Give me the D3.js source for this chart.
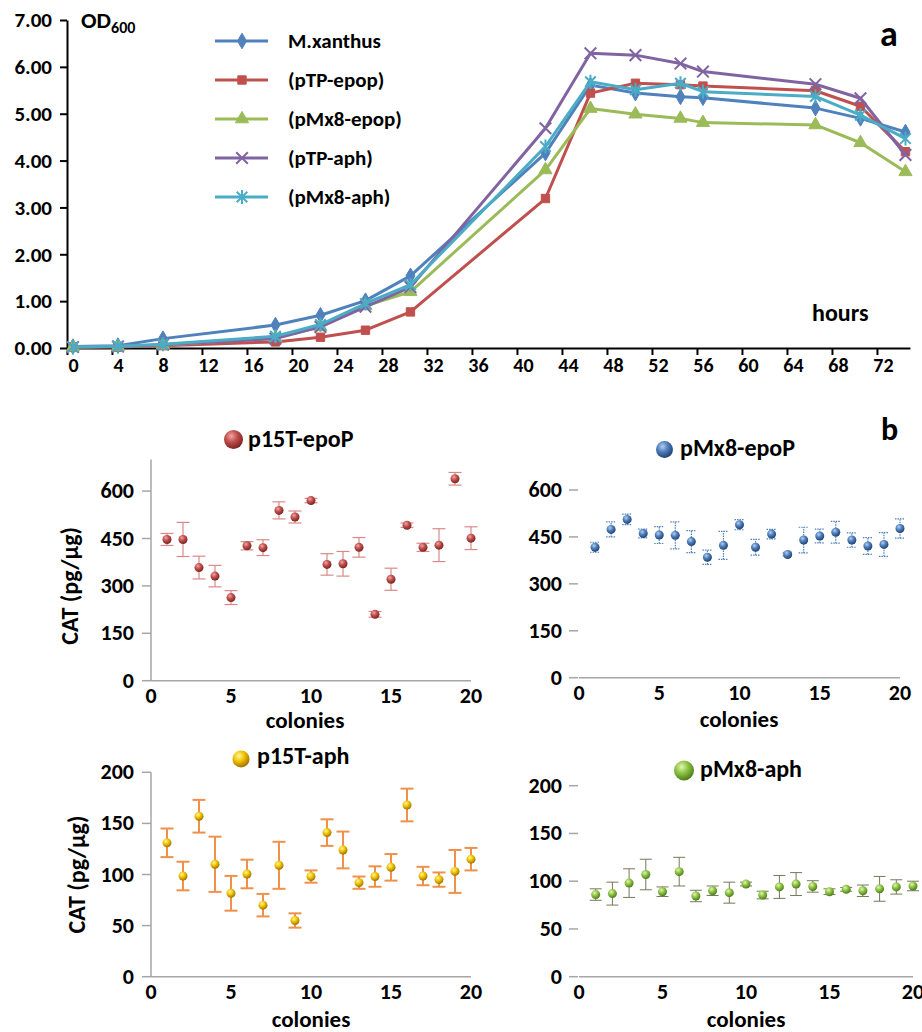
<!DOCTYPE html>
<meta charset="utf-8">
<style>
  body { margin: 0; background: #fff; }
  svg text { font-family: Carlito, "Open Sans", sans-serif; font-weight: 700; }
</style>
<script src="https://d3js.org/d3.v7.min.js"></script>
<div id="chart"></div>
<script>
// ---- panel a: growth curves ----
var hours = [0, 4, 8, 18, 22, 26, 30, 42, 46, 50, 54, 56, 66, 70, 74];
var xanthus = [0.03, 0.05, 0.20, 0.49, 0.70, 1.01, 1.54, 4.16, 5.61, 5.44, 5.36, 5.34, 5.12, 4.90, 4.61];
var tpEpop  = [0.02, 0.02, 0.05, 0.13, 0.23, 0.38, 0.77, 3.19, 5.44, 5.65, 5.62, 5.59, 5.49, 5.16, 4.19];
var mxEpop  = [0.02, 0.03, 0.06, 0.22, 0.45, 0.90, 1.20, 3.80, 5.11, 4.99, 4.90, 4.81, 4.76, 4.38, 3.76];
var tpAph   = [0.02, 0.03, 0.07, 0.20, 0.45, 0.88, 1.30, 4.69, 6.29, 6.25, 6.07, 5.90, 5.63, 5.33, 4.12];
var mxAph   = [0.02, 0.04, 0.08, 0.25, 0.50, 0.95, 1.35, 4.30, 5.68, 5.51, 5.65, 5.47, 5.37, 4.97, 4.47];
var seriesNames = ["M.xanthus", "(pTP-epop)", "(pMx8-epop)", "(pTP-aph)", "(pMx8-aph)"];
var hourTicks = [0, 4, 8, 12, 16, 20, 24, 28, 32, 36, 40, 44, 48, 52, 56, 60, 64, 68, 72];
var odTicks = [0, 1, 2, 3, 4, 5, 6, 7];

// ---- panel b: CAT per colony ----
var colonies = [1, 2, 3, 4, 5, 6, 7, 8, 9, 10, 11, 12, 13, 14, 15, 16, 17, 18, 19, 20];
var p15tEpo    = [447, 447, 358, 331, 263, 427, 421, 539, 518, 570, 368, 370, 422, 210, 321, 492, 422, 429, 639, 451];
var p15tEpoErr = [19, 54, 36, 34, 22, 13, 25, 27, 19, 7, 34, 39, 31, 9, 35, 7, 13, 52, 20, 36];
var mx8Epo     = [417, 474, 506, 461, 456, 455, 435, 385, 423, 489, 417, 459, 394, 440, 453, 465, 440, 421, 426, 477];
var mx8EpoErr  = [16, 24, 17, 14, 27, 43, 35, 23, 45, 16, 25, 15, 5, 41, 22, 35, 23, 27, 38, 31];
var p15tAph    = [131, 98.5, 157, 110, 81.6, 100.5, 70, 109, 55, 98, 141, 124, 92, 98, 107, 168, 98.5, 95, 103, 115];
var p15tAphErr = [14, 14, 16, 27, 17, 14, 11, 23, 7, 6, 13, 18, 6, 10, 13, 16, 9, 7, 21, 11];
var mx8Aph     = [86, 87, 98, 107, 89, 110, 84.5, 90, 88, 97, 85.5, 94, 97, 94.5, 89, 91.5, 90, 92, 94, 95];
var mx8AphErr  = [6, 12, 15, 16, 5, 15, 6, 5, 11, 2, 4, 12, 12, 6, 3, 2, 6, 13, 7.5, 5];
var colonyTicks = [0, 5, 10, 15, 20];
var epoTicks = [0, 150, 300, 450, 600];
var aphTicks = [0, 50, 100, 150, 200];

var svg = d3.select("#chart").append("svg")
  .attr("width", 922).attr("height", 1032);

// Excel-like palette
var colors = ["#4F81BD", "#C0504D", "#9BBB59", "#8064A2", "#4BACC6"];

// custom asterisk marker (x with a vertical bar)
var star = {
  draw: function(ctx, size) {
    var r = Math.sqrt(size) / 2;
    var d = r * 0.75;
    ctx.moveTo(-d, -d); ctx.lineTo(d, d);
    ctx.moveTo(-d, d); ctx.lineTo(d, -d);
    ctx.moveTo(0, -r); ctx.lineTo(0, r);
  }
};
var markers = [
  { type: d3.symbolDiamond, size: 70, fill: true },
  { type: d3.symbolSquare, size: 70, fill: true },
  { type: d3.symbolTriangle, size: 75, fill: true },
  { type: d3.symbolX, size: 90, fill: false },
  { type: star, size: 200, fill: false }
];

var x = d3.scaleLinear().domain([-0.53, 74.4]).range([67, 67 + 74.93 * 11.25]);
var y = d3.scaleLinear().domain([0, 7]).range([348, 20]);

var gx = svg.append("g")
  .attr("transform", "translate(0," + y(0) + ")")
  .call(d3.axisBottom(x).tickValues(hourTicks).tickSize(7).tickPadding(3).tickSizeOuter(0));
gx.selectAll(".tick line").attr("transform", "translate(-6,0)");

var gy = svg.append("g")
  .attr("transform", "translate(" + x(-0.53) + ",0)")
  .call(d3.axisLeft(y).tickValues(odTicks).tickFormat(d3.format(".2f")).tickSize(7).tickPadding(8).tickSizeOuter(0));

[gx, gy].forEach(function(g) {
  g.select(".domain").attr("stroke", "#000").attr("stroke-width", 2);
  g.selectAll(".tick line").attr("stroke", "#000").attr("stroke-width", 2);
  g.selectAll(".tick text").attr("fill", "#000");
});
gx.selectAll(".tick text").style("font-size", "20px");
gy.selectAll(".tick text").style("font-size", "21px");

var allSeries = [xanthus, tpEpop, mxEpop, tpAph, mxAph];
var line = d3.line()
  .x(function(d, i) { return x(hours[i]); })
  .y(function(d) { return y(d); });

allSeries.forEach(function(vals, k) {
  svg.append("path")
    .datum(vals)
    .attr("fill", "none")
    .attr("stroke", colors[k])
    .attr("stroke-width", 3)
    .attr("stroke-linejoin", "round")
    .attr("d", line);
  var m = markers[k];
  svg.append("g").selectAll("path")
    .data(vals)
    .enter().append("path")
    .attr("transform", function(d, i) { return "translate(" + x(hours[i]) + "," + y(d) + ")"; })
    .attr("d", d3.symbol().type(m.type).size(m.size))
    .attr("fill", m.fill ? colors[k] : "none")
    .attr("stroke", colors[k])
    .attr("stroke-width", m.fill ? 1 : 2);
});

// legend
var legend = svg.append("g").attr("transform", "translate(215,41)");
seriesNames.forEach(function(name, k) {
  var row = legend.append("g").attr("transform", "translate(0," + k * 39 + ")");
  row.append("line").attr("x1", 0).attr("x2", 53)
    .attr("stroke", colors[k]).attr("stroke-width", 3);
  var m = markers[k];
  row.append("path")
    .attr("transform", "translate(27,0)")
    .attr("d", d3.symbol().type(m.type).size(m.size))
    .attr("fill", m.fill ? colors[k] : "none")
    .attr("stroke", colors[k])
    .attr("stroke-width", m.fill ? 1 : 2);
  row.append("text").attr("x", 73).attr("y", 7)
    .style("font-size", "21px").text(name);
});

var od = svg.append("text").attr("x", 81).attr("y", 28).style("font-size", "23px");
od.append("tspan").text("OD");
od.append("tspan").attr("dy", 5).style("font-size", "16px").text("600");
svg.append("text").attr("x", 880).attr("y", 45.5).style("font-size", "36px").text("a");
svg.append("text").attr("x", 812).attr("y", 321).style("font-size", "24px").text("hours");

// ---- panel b ----
svg.append("text").attr("x", 881).attr("y", 440).style("font-size", "32px").text("b");

var defs = svg.append("defs");
function sphereGrad(id, light, mid, dark) {
  var g = defs.append("radialGradient").attr("id", id)
    .attr("cx", "38%").attr("cy", "32%").attr("r", "70%");
  g.append("stop").attr("offset", "0%").attr("stop-color", light);
  g.append("stop").attr("offset", "45%").attr("stop-color", mid);
  g.append("stop").attr("offset", "100%").attr("stop-color", dark);
}
sphereGrad("gRed", "#f0a8a6", "#c0504d", "#7a2220");
sphereGrad("gBlue", "#b8cdf0", "#4f81bd", "#1f3f6e");
sphereGrad("gGold", "#fff6a0", "#f2c500", "#a07000");
sphereGrad("gGreen", "#e2f5b8", "#8fc544", "#4c7a18");

var panels = [
  { title: "p15T-epoP", grad: "gRed", vals: p15tEpo, err: p15tEpoErr, ticks: epoTicks,
    xr: [151, 471], ymax: 700, yr: [680.7, 459.5], yLine: true, ylabX: 78,
    errColor: "#d98a88", errWidth: 1.2, dash: null, cap: 13,
    titleX: 248, titleY: 447, sx: 233.5, sy: 439.5, sr: 9.5, colX: 305, colY: 728 },
  { title: "pMx8-epoP", grad: "gBlue", vals: mx8Epo, err: mx8EpoErr, ticks: epoTicks,
    xr: [579, 900], ymax: 600, yr: [677.7, 490], yLine: false, ylabX: null,
    errColor: "#4f81bd", errWidth: 1.2, dash: "1.5,1", cap: 10,
    titleX: 680, titleY: 456, sx: 664.5, sy: 449.5, sr: 8.5, colX: 739, colY: 727 },
  { title: "p15T-aph", grad: "gGold", vals: p15tAph, err: p15tAphErr, ticks: aphTicks,
    xr: [151, 471], ymax: 200, yr: [976.7, 772.3], yLine: true, ylabX: 85,
    errColor: "#f0904a", errWidth: 2, dash: null, cap: 13,
    titleX: 257, titleY: 764, sx: 241, sy: 759, sr: 8.5, colX: 311, colY: 1027 },
  { title: "pMx8-aph", grad: "gGreen", vals: mx8Aph, err: mx8AphErr, ticks: aphTicks,
    xr: [579, 913], ymax: 200, yr: [976.7, 785.7], yLine: false, ylabX: null,
    errColor: "#77775a", errWidth: 1, dash: null, cap: 12,
    titleX: 700, titleY: 777, sx: 684, sy: 770.5, sr: 10, colX: 746, colY: 1027 }
];

panels.forEach(function(p) {
  var px = d3.scaleLinear().domain([0, 20]).range(p.xr);
  var py = d3.scaleLinear().domain([0, p.ymax]).range(p.yr);
  var g = svg.append("g");

  // x axis line + labels
  g.append("line")
    .attr("x1", px(0)).attr("x2", px(20)).attr("y1", py(0)).attr("y2", py(0))
    .attr("stroke", "#a6a6a6").attr("stroke-width", 1.5);
  g.selectAll(".xl").data(colonyTicks).enter().append("text")
    .attr("x", function(d) { return px(d); })
    .attr("y", py(0) + 22)
    .attr("text-anchor", "middle")
    .style("font-size", "22px")
    .text(function(d) { return d; });

  // y axis
  if (p.yLine) {
    g.append("line")
      .attr("x1", px(0)).attr("x2", px(0)).attr("y1", py(0)).attr("y2", py(p.ymax))
      .attr("stroke", "#a6a6a6").attr("stroke-width", 1.5);
  }
  var tickGap = p.yLine ? 0 : 1;
  g.selectAll(".yt").data(p.ticks).enter().append("line")
    .attr("x1", px(0) - 9 - tickGap).attr("x2", px(0) - tickGap)
    .attr("y1", function(d) { return py(d); }).attr("y2", function(d) { return py(d); })
    .attr("stroke", "#a6a6a6").attr("stroke-width", 1.5);
  g.selectAll(".yl").data(p.ticks).enter().append("text")
    .attr("x", px(0) - 17)
    .attr("y", function(d) { return py(d) + 7; })
    .attr("text-anchor", "end")
    .style("font-size", "22px")
    .text(function(d) { return d; });

  if (p.ylabX) {
    var cy = (py(0) + py(p.ticks[p.ticks.length - 1])) / 2;
    g.append("text")
      .attr("transform", "translate(" + p.ylabX + "," + cy + ") rotate(-90)")
      .attr("text-anchor", "middle")
      .style("font-size", "24px")
      .text("CAT (pg/μg)");
  }

  // error bars
  var eb = g.append("g")
    .attr("stroke", p.errColor)
    .attr("stroke-width", p.errWidth)
    .attr("stroke-dasharray", p.dash);
  colonies.forEach(function(c, i) {
    var cx = px(c), lo = py(p.vals[i] - p.err[i]), hi = py(p.vals[i] + p.err[i]);
    eb.append("line").attr("x1", cx).attr("x2", cx).attr("y1", lo).attr("y2", hi);
    eb.append("line").attr("x1", cx - p.cap / 2).attr("x2", cx + p.cap / 2).attr("y1", lo).attr("y2", lo);
    eb.append("line").attr("x1", cx - p.cap / 2).attr("x2", cx + p.cap / 2).attr("y1", hi).attr("y2", hi);
  });

  // sphere points
  g.selectAll(".pt").data(p.vals).enter().append("circle")
    .attr("cx", function(d, i) { return px(colonies[i]); })
    .attr("cy", function(d) { return py(d); })
    .attr("r", 4.5)
    .attr("fill", "url(#" + p.grad + ")");

  // title with sphere
  g.append("circle")
    .attr("cx", p.sx).attr("cy", p.sy).attr("r", p.sr)
    .attr("fill", "url(#" + p.grad + ")");
  g.append("text").attr("x", p.titleX).attr("y", p.titleY)
    .style("font-size", "24px").text(p.title);

  g.append("text").attr("x", p.colX).attr("y", p.colY)
    .attr("text-anchor", "middle")
    .style("font-size", "23px").text("colonies");
});
</script>
